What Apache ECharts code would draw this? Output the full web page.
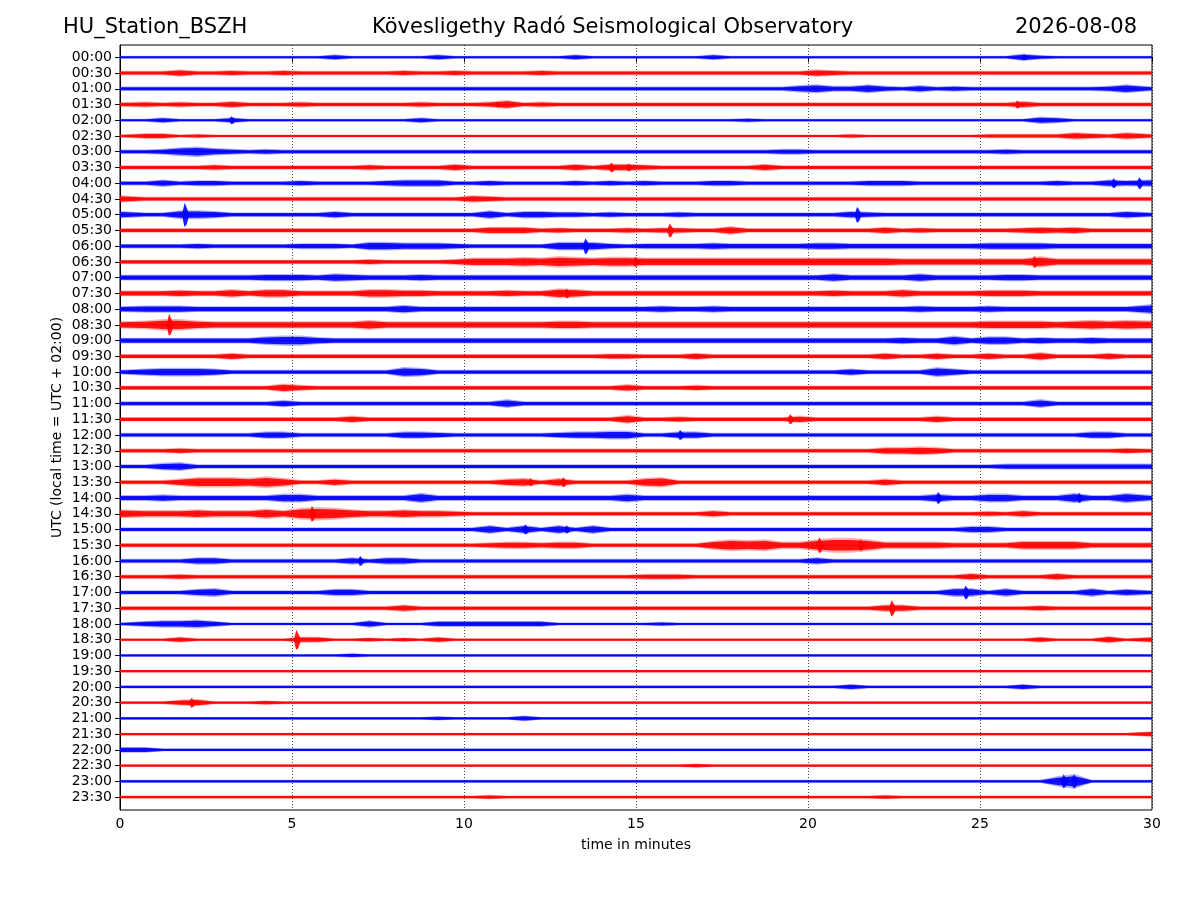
<!DOCTYPE html>
<html>
<head>
<meta charset="UTF-8">
<title>HU_Station_BSZH helicorder</title>
<script src="https://cdn.jsdelivr.net/npm/echarts@6/dist/echarts.min.js"></script>
<style>
  html, body { margin: 0; padding: 0; background: #fff; }
  #chart { width: 1200px; height: 900px; }
</style>
</head>
<body>
<div id="chart"></div>
<script>
// tick labels of the 48 half-hour traces
var rowLabels = ['00:00','00:30','01:00','01:30','02:00','02:30','03:00','03:30',
  '04:00','04:30','05:00','05:30','06:00','06:30','07:00','07:30',
  '08:00','08:30','09:00','09:30','10:00','10:30','11:00','11:30',
  '12:00','12:30','13:00','13:30','14:00','14:30','15:00','15:30',
  '16:00','16:30','17:00','17:30','18:00','18:30','19:00','19:30',
  '20:00','20:30','21:00','21:30','22:00','22:30','23:00','23:30'];
var xTicks = [0, 5, 10, 15, 20, 25, 30];
var traceColors = ['#0000ff', '#ff0000'];

// envelope of each trace, one char per 30 s (base 36 digit, half-width in half pixels)
// groups of ten = 5 minutes
var traceAmp = [
  '2222222222 2242222242 2222224222 2222422222 2222222222 2253222222',
  '3335334334 3333334334 3333433333 3333333333 5433333333 3333333333',
  '3333333333 3333333333 3333333333 3333333335 6446435343 3333333463',
  '3434335333 4333333433 3463433333 3333333333 3333333333 3353333333',
  '2242224222 2222222422 2222222222 2222223222 2222222222 2225422222',
  '2442322222 2222222222 2222222222 2222222222 2232222222 3333354353',
  '3346754343 3333333333 3333333333 3333333344 3333333333 3433333333',
  '3333343333 3333433335 3333335355 4333333533 3333333333 3333333333',
  '3353443333 4333345553 3433334343 4333443333 3334443333 3333433545',
  '5333333333 3333333333 5433333333 3333333333 3333333333 3333333333',
  '5336653333 3353333333 3635544343 3343333333 3354333333 3333333353',
  '3333333333 3333333333 3555343334 3443363333 3333534333 3345453333',
  '3333433333 4443665554 3333366643 4444544444 5544444444 5555444444',
  '3333333333 3333433334 6667687677 6666666666 6666655555 5558555555',
  '4444444455 5465444544 4444444444 4444444444 4644446444 4554444444',
  '4445446466 4444665544 4454476444 4444444444 4544464444 5554444444',
  '4555444444 4444446444 4444444444 4544544444 4444445444 5444444447',
  '5688655555 5555755555 5555566555 5555555555 5555555555 6666567676',
  '4444444467 7544444444 4444444444 4444444444 4444454474 6645445444',
  '3333335333 3333333333 3333333344 3335333333 3333533533 5336333533',
  '3566653333 3333337633 3333333333 3333333333 3353333753 3333333333',
  '3333333336 4333333333 3333333335 3334333333 3333333333 3333333333',
  '3333333335 3333333333 3363333333 3333333333 3333333333 3336333333',
  '3333333333 3335333333 3333333336 3343333335 3333333533 3333333333',
  '3333333355 3333335543 3333345566 3355333333 3333333333 3333335533',
  '3334333333 3333333333 3333333333 3333333333 3333556533 3333333343',
  '3356333333 3333333333 3333333333 3333333333 3333333333 3444444444',
  '3335777686 3353333333 3356363333 6733333333 3333533333 3333333333',
  '4454444446 6444444744 4444444446 4444444444 4444444644 6644474474',
  '6555655575 8986556554 3333333333 3333533333 3333333333 4353333333',
  '3333333333 3333333333 3636363633 3333333333 3333333335 5333333333',
  '3333333333 3333333333 3455455333 3333687855 8aa8555544 4466664444',
  '3333553333 3335355333 3333333333 3333333333 5333333333 3333333333',
  '3334333333 3333333333 3333333333 4443333333 3333333335 3333533333',
  '3333563333 3355333333 3333333333 3333333333 3333333366 3633336353',
  '3333333333 3333335333 3333333333 3333333333 3333553333 3334333333',
  '2455642222 2222522244 4444422222 2322222222 2222222222 2222222222',
  '2224222222 4422323242 2222222222 2222222222 2222222222 2224222524',
  '2222222222 2223222222 2222222222 2222222222 2222222222 2222222222',
  '2222222222 2222222222 2222222222 2222222222 2222222222 2222222222',
  '2222222222 2222222222 2222222222 2222222222 2242222222 2242222222',
  '2224522232 2222222222 2222222222 2222222222 2222222222 2222222222',
  '2222222222 2222222232 2224222222 2222222222 2222222222 2222222222',
  '2222222222 2222222222 2222222222 2222222222 2222222222 2222222224',
  '4422222222 2222222222 2222222222 2222222222 2222222222 2222222222',
  '2222222222 2222222222 2222222222 2223222222 2222222222 2222222222',
  '2222222222 2222222222 2222222222 2222222222 2222222222 22227a2222',
  '2222222222 2222222222 2322222222 2222222222 2222322222 2222222222'
];

// narrow spikes: trace row, minute, half-height in px
var spikeRow = [0, 3, 3, 4, 7, 7, 8, 8, 10, 10, 11, 12, 13, 13, 15, 17, 23, 24,
  27, 27, 28, 28, 29, 30, 30, 31, 31, 32, 34, 35, 37, 41, 46, 46];
var spikeMin = [26.3, 26.1, 11.0, 3.26, 14.3, 14.8, 28.9, 29.65, 1.9, 21.45, 16.0, 13.55, 26.6, 15.0, 13.0, 1.45, 19.5, 16.3,
  12.9, 11.95, 23.8, 27.9, 5.6, 11.8, 13.0, 20.35, 21.55, 7.0, 24.6, 22.45, 5.15, 2.1, 27.45, 27.75];
var spikeAmp = [3, 4, 3, 4, 5, 4, 5, 6, 12, 8, 7, 8, 6, 5, 5, 11, 5, 5,
  5, 4, 6, 5, 8, 5, 4, 8, 6, 5, 7, 8, 10, 5, 7, 7];

var rowPx = 765 / 48.6;
var ampScale = 0.55 / rowPx;
var rowValues = rowLabels.map(function (l, i) { return i; });

var chart = echarts.init(document.getElementById('chart'));

function bandPoints(api, row, s, k) {
  var n = s.length, w = 30 / n;
  var up = [], dn = [];
  for (var i = 0; i < n; i++) {
    var a = parseInt(s[i], 36) * ampScale * k;
    var t = (i + 0.5) * w;
    if (i === 0) t = 0;
    if (i === n - 1) t = 30;
    up.push(api.coord([t, row - a]));
    dn.unshift(api.coord([t, row + a]));
  }
  return up.concat(dn);
}

function renderTrace(params, api) {
  var row = api.value(1);
  var s = traceAmp[row].replace(/ /g, '');
  var color = traceColors[row % 2];
  var p0 = api.coord([0, row]), p1 = api.coord([30, row]);
  return {
    type: 'group',
    children: [
      // soft fringe of the noise, then the dense core
      { type: 'polygon', shape: { points: bandPoints(api, row, s, 1.35) }, style: { fill: color, opacity: 0.3 } },
      { type: 'polygon', shape: { points: bandPoints(api, row, s, 0.95) }, style: { fill: color, opacity: 0.9 } },
      { type: 'line', shape: { x1: p0[0], y1: p0[1], x2: p1[0], y2: p1[1] }, style: { stroke: color, lineWidth: 1.2 } }
    ]
  };
}

function renderSpike(params, api) {
  var t = api.value(0), row = api.value(1), a = api.value(2) / rowPx;
  var color = traceColors[row % 2];
  var pts = [
    api.coord([t - 0.1, row]), api.coord([t - 0.02, row - a]), api.coord([t + 0.02, row - a * 0.7]),
    api.coord([t + 0.12, row]), api.coord([t + 0.03, row + a * 0.85]), api.coord([t - 0.03, row + a])
  ];
  return { type: 'polygon', shape: { points: pts }, style: { fill: color, opacity: 0.9 } };
}

var option = {
  animation: false,
  textStyle: { fontFamily: 'DejaVu Sans' },
  title: [
    { text: 'HU_Station_BSZH', left: 63, top: 17, padding: 0, textStyle: { fontSize: 21, fontWeight: 'normal', color: '#000', fontFamily: 'DejaVu Sans' } },
    { text: 'Kövesligethy Radó Seismological Observatory', left: 372, top: 17, padding: 0, textStyle: { fontSize: 21, fontWeight: 'normal', color: '#000', fontFamily: 'DejaVu Sans' } },
    { text: '2026-08-08', right: 63, top: 17, padding: 0, textStyle: { fontSize: 21, fontWeight: 'normal', color: '#000', fontFamily: 'DejaVu Sans' } }
  ],
  grid: { left: 120, right: 48, top: 45, bottom: 90, show: true, borderColor: '#000', borderWidth: 1, backgroundColor: 'transparent' },
  xAxis: {
    type: 'value', min: 0, max: 30, interval: 5,
    name: 'time in minutes', nameLocation: 'middle', nameGap: 28, nameMoveOverlap: false,
    nameTextStyle: { fontSize: 14, color: '#000', fontFamily: 'DejaVu Sans' },
    axisLine: { lineStyle: { color: '#000' } },
    axisTick: { show: true, length: 5, lineStyle: { color: '#000' } },
    axisLabel: { fontSize: 14, color: '#000', margin: 7, fontFamily: 'DejaVu Sans',
      customValues: xTicks },
    splitLine: { show: true, lineStyle: { color: '#000', type: [1, 2], width: 0.7 } }
  },
  yAxis: {
    type: 'value', inverse: true, min: -0.78, max: 47.82,
    name: 'UTC (local time = UTC + 02:00)', nameLocation: 'middle', nameGap: 56, nameRotate: 90,
    nameMoveOverlap: false,
    nameTextStyle: { fontSize: 14, color: '#000', fontFamily: 'DejaVu Sans' },
    axisLine: { lineStyle: { color: '#000' } },
    axisTick: { show: true, length: 5, customValues: rowValues, lineStyle: { color: '#000' } },
    axisLabel: { fontSize: 14, color: '#000', margin: 8, fontFamily: 'DejaVu Sans',
      customValues: rowValues,
      formatter: function (v) { return rowLabels[Math.round(v)]; } },
    splitLine: { show: false }
  },
  series: [{
    type: 'custom',
    renderItem: renderTrace,
    clip: true,
    encode: { x: 0, y: 1 },
    data: rowValues.map(function (r) { return [0, r]; })
  }, {
    type: 'custom',
    renderItem: renderSpike,
    clip: true,
    encode: { x: 0, y: 1 },
    data: spikeRow.map(function (r, i) { return [spikeMin[i], r, spikeAmp[i]]; })
  }]
};

chart.setOption(option);
</script>
</body>
</html>
